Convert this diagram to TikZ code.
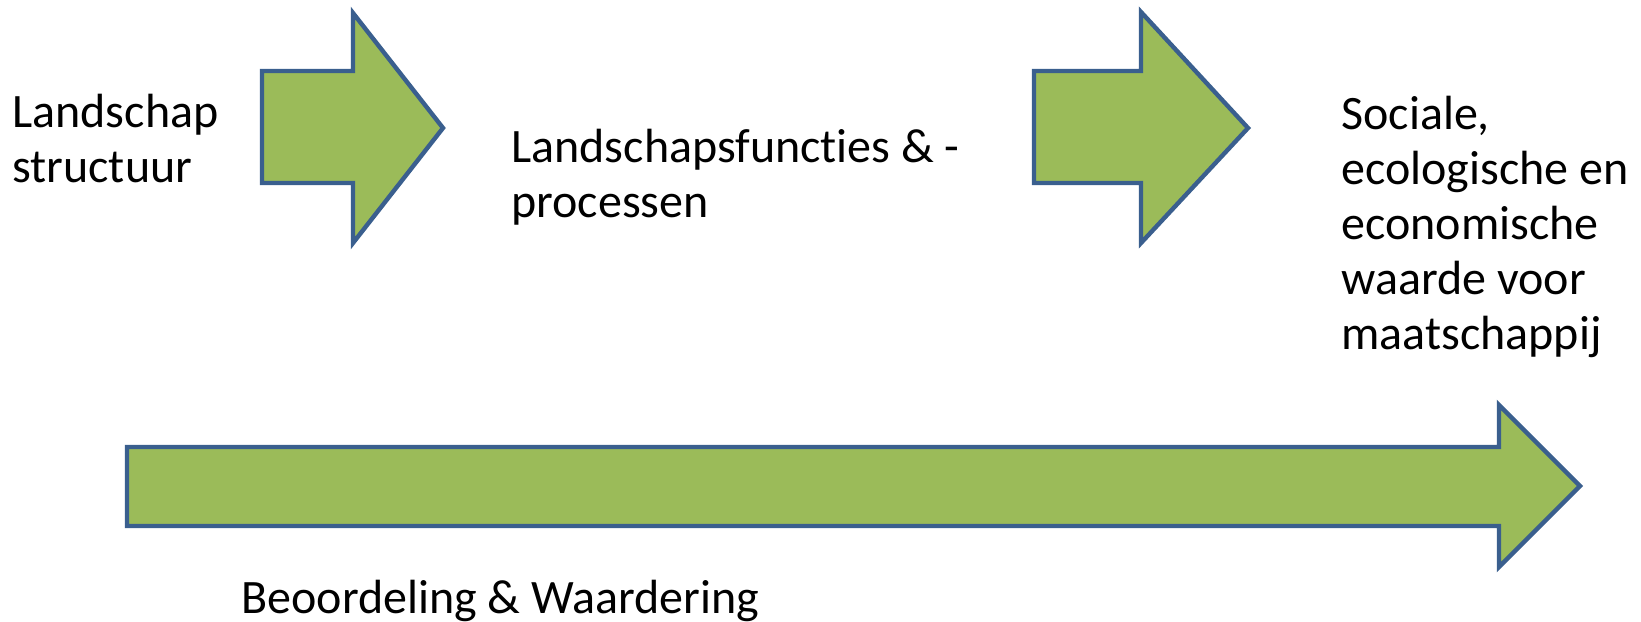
\documentclass[tikz,border=0pt]{standalone}
\usepackage{fontspec}
\setmainfont{Carlito}
\usepackage{tikz}
\usetikzlibrary{calc}

\definecolor{pijlgroen}{HTML}{9BBB59}
\definecolor{pijlrand}{HTML}{3A5F8E}

\tikzset{
    blokpijl/.style={fill=pijlgroen, draw=pijlrand, line width=2.2pt},
    tekst/.style={inner sep=0pt, anchor=base west, align=left,
        font=\fontsize{24}{27.5}\selectfont}
}

\begin{document}
\begin{tikzpicture}[x=0.5pt, y=-0.5pt]
            \useasboundingbox (0, 0) rectangle (1641, 621);

            % base = basislijn van de laatste regel
            \node[tekst] (structuur) at (12, 182) {Landschap\\structuur};
            \node[tekst] (functies) at (511, 217) {Landschapsfunct\kern0pt ies \& -\\processen};
            \node[tekst] (waarde) at (1341, 349) {Sociale,\\ecologische en\\economische\\waarde voor\\maatschappij};
            \node[tekst] (beoordeling) at (241, 613) {Beoordeling \& Waardering};

            % pijlen tussen de stappen
            \draw[blokpijl] (262, 71) -- (353, 71) -- (353, 13) -- (443, 128)
                -- (353, 243) -- (353, 183) -- (262, 183) -- cycle;
            \draw[blokpijl] (1034, 71) -- (1141, 71) -- (1141, 12) -- (1248, 128)
                -- (1141, 243) -- (1141, 183) -- (1034, 183) -- cycle;

            % lange pijl onder
            \draw[blokpijl] (127, 447) -- (1499, 447) -- (1499, 405) -- (1580, 486)
                -- (1499, 567) -- (1499, 526) -- (127, 526) -- cycle;
        \end{tikzpicture}
\end{document}
